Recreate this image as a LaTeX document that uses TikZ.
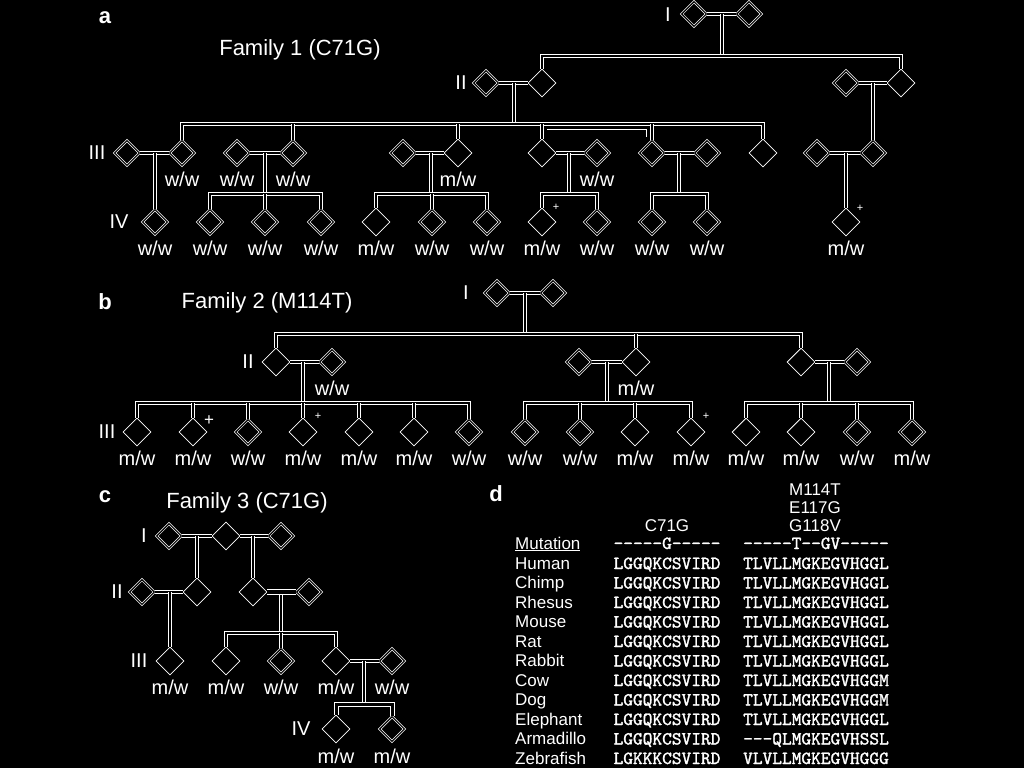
\documentclass[tikz,border=0pt]{standalone}
\usepackage{fontspec}
\setmainfont{Liberation Sans}
\newfontfamily\seqfont{lmmono10-regular.otf}[FakeBold=1.5]
\usetikzlibrary{shapes.geometric,calc}

\begin{document}
\begin{tikzpicture}[x=1pt,y=-1pt,
  opendia/.style={diamond,draw=white,line width=0.7pt,double=black,double distance=1.2pt,fill=black,minimum size=25pt,inner sep=0pt},
  filldia/.style={diamond,draw=white,line width=0.8pt,fill=black,minimum size=28pt,inner sep=0pt},
  conn/.style={draw=white,line width=1pt,double=black,double distance=2pt},
  gt/.style={text=white,font=\fontsize{20}{24}\selectfont,inner sep=0pt},
  genlabel/.style={text=white,font=\fontsize{20}{24}\selectfont,inner sep=0pt},
  famtitle/.style={text=white,font=\fontsize{22}{26}\selectfont,inner sep=0pt},
  panelletter/.style={text=white,font=\fontsize{22}{26}\selectfont\bfseries,inner sep=0pt},
  plusmark/.style={text=white,font=\fontsize{11}{12}\selectfont,inner sep=0pt},
  species/.style={text=white,font=\fontsize{17}{20}\selectfont,anchor=base west,inner sep=0pt},
  hdr/.style={text=white,font=\fontsize{17}{20}\selectfont,anchor=base,inner sep=0pt},
  seq/.style={text=white,font=\seqfont\fontsize{18.5}{20}\selectfont,anchor=base,inner sep=0pt}
]
\fill[black] (0,0) rectangle (1024,768);
\useasboundingbox (0,0) rectangle (1024,768);

% ---------------- a: Family 1
\node[panelletter] (aletter) at (105,18) {a};
\node[famtitle] (atitle) at (300,50) {Family 1 (C71G)};
\node[genlabel] (aIlab) at (668,15) {I};
\node[genlabel] (aIIlab) at (461,83) {II};
\node[genlabel] (aIIIlab) at (97,153) {III};
\node[genlabel] (aIVlab) at (119,222) {IV};

\node[opendia] (aI1) at (694,14) {};
\node[opendia] (aI2) at (749,14) {};

\node[opendia] (aII1) at (486,83) {};
\node[filldia] (aII2) at (542,83) {};
\node[opendia] (aII3) at (846,83) {};
\node[filldia] (aII4) at (901,83) {};

\node[opendia] (aIII1) at (127,153) {};
\node[opendia] (aIII2) at (182,153) {};
\node[opendia] (aIII3) at (237,153) {};
\node[opendia] (aIII4) at (293,153) {};
\node[opendia] (aIII5) at (403,153) {};
\node[filldia] (aIII6) at (458,153) {};
\node[filldia] (aIII7) at (542,153) {};
\node[opendia] (aIII8) at (597,153) {};
\node[opendia] (aIII9) at (652,153) {};
\node[opendia] (aIII10) at (707,153) {};
\node[filldia] (aIII11) at (763,153) {};
\node[opendia] (aIII12) at (817,153) {};
\node[opendia] (aIII13) at (873,153) {};

\node[opendia] (aIV1) at (155,222) {};
\node[opendia] (aIV2) at (210,222) {};
\node[opendia] (aIV3) at (265,222) {};
\node[opendia] (aIV4) at (321,222) {};
\node[filldia] (aIV5) at (376,222) {};
\node[opendia] (aIV6) at (432,222) {};
\node[opendia] (aIV7) at (487,222) {};
\node[filldia] (aIV8) at (542,222) {};
\node[opendia] (aIV9) at (597,222) {};
\node[opendia] (aIV10) at (652,222) {};
\node[opendia] (aIV11) at (707,222) {};
\node[filldia] (aIV12) at (846,222) {};

\node[gt] (aIII2g) at (182,179) {w/w};
\node[gt] (aIII3g) at (237,179) {w/w};
\node[gt] (aIII4g) at (293,179) {w/w};
\node[gt] (aIII6g) at (458,179) {m/w};
\node[gt] (aIII8g) at (597,179) {w/w};
\node[gt] (aIV1g) at (155,248) {w/w};
\node[gt] (aIV2g) at (210,248) {w/w};
\node[gt] (aIV3g) at (265,248) {w/w};
\node[gt] (aIV4g) at (321,248) {w/w};
\node[gt] (aIV5g) at (376,248) {m/w};
\node[gt] (aIV6g) at (432,248) {w/w};
\node[gt] (aIV7g) at (487,248) {w/w};
\node[gt] (aIV8g) at (542,248) {m/w};
\node[gt] (aIV9g) at (597,248) {w/w};
\node[gt] (aIV10g) at (652,248) {w/w};
\node[gt] (aIV11g) at (707,248) {w/w};
\node[gt] (aIV12g) at (846,248) {m/w};
\node[plusmark] (aIV8m) at (556,207) {+};
\node[plusmark] (aIV12m) at (860,208) {+};

\coordinate (aIm) at (722,14);
\coordinate (aIs) at (722,56);
\coordinate (aIIm) at (514,83);
\coordinate (aIIs) at (514,124);
\coordinate (aIIrm) at (873,83);
\coordinate (aIIIm1) at (155,153);
\coordinate (aIIIm2) at (265,153);
\coordinate (aIIIs2) at (265,194);
\coordinate (aIIIm3) at (431,153);
\coordinate (aIIIs3) at (431,194);
\coordinate (aIIIm4) at (569,153);
\coordinate (aIIIs4) at (569,194);
\coordinate (aIIIm5) at (679,153);
\coordinate (aIIIs5) at (679,194);
\coordinate (aIIIm6) at (846,153);
\coordinate (aX1) at (547,129);
\coordinate (aX2) at (646,137);

\draw[conn] (aI1.east) -- (aI2.west);
\draw[conn] (aIm) -- (aIs);
\draw[conn] (aII2.north) |- (aIs) -| (aII4.north);
\draw[conn] (aII1.east) -- (aII2.west);
\draw[conn] (aIIm) -- (aIIs);
\draw[conn] (aIII2.north) |- (aIIs) -| (aIII11.north);
\draw[conn] (aIII4.north) -- (aIII4.north |- aIIs);
\draw[conn] (aIII6.north) -- (aIII6.north |- aIIs);
\draw[conn] (aIII7.north) -- (aIII7.north |- aIIs);
\draw[conn] (aIII9.north) -- (aIII9.north |- aIIs);
\draw[white,line width=1pt] (aX1) -| (aX2);
\draw[conn] (aII3.east) -- (aII4.west);
\draw[conn] (aIIrm) -- (aIII13.north);
\draw[conn] (aIII1.east) -- (aIII2.west);
\draw[conn] (aIIIm1) -- (aIV1.north);
\draw[conn] (aIII3.east) -- (aIII4.west);
\draw[conn] (aIIIm2) -- (aIIIs2);
\draw[conn] (aIV2.north) |- (aIIIs2) -| (aIV4.north);
\draw[conn] (aIV3.north) -- (aIV3.north |- aIIIs2);
\draw[conn] (aIII5.east) -- (aIII6.west);
\draw[conn] (aIIIm3) -- (aIIIs3);
\draw[conn] (aIV5.north) |- (aIIIs3) -| (aIV7.north);
\draw[conn] (aIV6.north) -- (aIV6.north |- aIIIs3);
\draw[conn] (aIII7.east) -- (aIII8.west);
\draw[conn] (aIIIm4) -- (aIIIs4);
\draw[conn] (aIV8.north) |- (aIIIs4) -| (aIV9.north);
\draw[conn] (aIII9.east) -- (aIII10.west);
\draw[conn] (aIIIm5) -- (aIIIs5);
\draw[conn] (aIV10.north) |- (aIIIs5) -| (aIV11.north);
\draw[conn] (aIII12.east) -- (aIII13.west);
\draw[conn] (aIIIm6) -- (aIV12.north);

% ---------------- b: Family 2
\node[panelletter] (bletter) at (105,302) {b};
\node[famtitle] (btitle) at (267,303) {Family 2 (M114T)};
\node[genlabel] (bIlab) at (466,293) {I};
\node[genlabel] (bIIlab) at (248,362) {II};
\node[genlabel] (bIIIlab) at (107,432) {III};

\node[opendia] (bI1) at (497,293) {};
\node[opendia] (bI2) at (553,293) {};

\node[filldia] (bII1) at (276,362) {};
\node[opendia] (bII2) at (332,362) {};
\node[opendia] (bII3) at (579,362) {};
\node[filldia] (bII4) at (636,362) {};
\node[filldia] (bII5) at (801,362) {};
\node[opendia] (bII6) at (857,362) {};

\node[filldia] (bIII1) at (137,432) {};
\node[filldia] (bIII2) at (193,432) {};
\node[opendia] (bIII3) at (248,432) {};
\node[filldia] (bIII4) at (303,432) {};
\node[filldia] (bIII5) at (359,432) {};
\node[filldia] (bIII6) at (414,432) {};
\node[opendia] (bIII7) at (469,432) {};
\node[opendia] (bIII8) at (525,432) {};
\node[opendia] (bIII9) at (580,432) {};
\node[filldia] (bIII10) at (635,432) {};
\node[filldia] (bIII11) at (691,432) {};
\node[filldia] (bIII12) at (746,432) {};
\node[filldia] (bIII13) at (801,432) {};
\node[opendia] (bIII14) at (857,432) {};
\node[opendia] (bIII15) at (912,432) {};

\node[gt] (bII2g) at (332,388) {w/w};
\node[gt] (bII4g) at (636,388) {m/w};
\node[gt] (bIII1g) at (137,458) {m/w};
\node[gt] (bIII2g) at (193,458) {m/w};
\node[gt] (bIII3g) at (248,458) {w/w};
\node[gt] (bIII4g) at (303,458) {m/w};
\node[gt] (bIII5g) at (359,458) {m/w};
\node[gt] (bIII6g) at (414,458) {m/w};
\node[gt] (bIII7g) at (469,458) {w/w};
\node[gt] (bIII8g) at (525,458) {w/w};
\node[gt] (bIII9g) at (580,458) {w/w};
\node[gt] (bIII10g) at (635,458) {m/w};
\node[gt] (bIII11g) at (691,458) {m/w};
\node[gt] (bIII12g) at (746,458) {m/w};
\node[gt] (bIII13g) at (801,458) {m/w};
\node[gt] (bIII14g) at (857,458) {w/w};
\node[gt] (bIII15g) at (912,458) {m/w};
\node[plusmark,font=\fontsize{17}{18}\selectfont] (bIII2m) at (209,421) {+};
\node[plusmark] (bIII4m) at (318,416) {+};
\node[plusmark] (bIII11m) at (706,416) {+};

\coordinate (bIm) at (525,293);
\coordinate (bIs) at (525,334);
\coordinate (bIIm1) at (303,362);
\coordinate (bIIs1) at (303,403);
\coordinate (bIIm2) at (607,362);
\coordinate (bIIs2) at (607,403);
\coordinate (bIIm3) at (829,362);
\coordinate (bIIs3) at (829,403);

\draw[conn] (bI1.east) -- (bI2.west);
\draw[conn] (bIm) -- (bIs);
\draw[conn] (bII1.north) |- (bIs) -| (bII5.north);
\draw[conn] (bII4.north) -- (bII4.north |- bIs);
\draw[conn] (bII1.east) -- (bII2.west);
\draw[conn] (bIIm1) -- (bIIs1);
\draw[conn] (bIII1.north) |- (bIIs1) -| (bIII7.north);
\draw[conn] (bIII2.north) -- (bIII2.north |- bIIs1);
\draw[conn] (bIII3.north) -- (bIII3.north |- bIIs1);
\draw[conn] (bIII4.north) -- (bIII4.north |- bIIs1);
\draw[conn] (bIII5.north) -- (bIII5.north |- bIIs1);
\draw[conn] (bIII6.north) -- (bIII6.north |- bIIs1);
\draw[conn] (bII3.east) -- (bII4.west);
\draw[conn] (bIIm2) -- (bIIs2);
\draw[conn] (bIII8.north) |- (bIIs2) -| (bIII11.north);
\draw[conn] (bIII9.north) -- (bIII9.north |- bIIs2);
\draw[conn] (bIII10.north) -- (bIII10.north |- bIIs2);
\draw[conn] (bII5.east) -- (bII6.west);
\draw[conn] (bIIm3) -- (bIIs3);
\draw[conn] (bIII12.north) |- (bIIs3) -| (bIII15.north);
\draw[conn] (bIII13.north) -- (bIII13.north |- bIIs3);
\draw[conn] (bIII14.north) -- (bIII14.north |- bIIs3);

% ---------------- c: Family 3
\node[panelletter] (cletter) at (105,497) {c};
\node[famtitle] (ctitle) at (247,503) {Family 3 (C71G)};
\node[genlabel] (cIlab) at (144,536) {I};
\node[genlabel] (cIIlab) at (117,592) {II};
\node[genlabel] (cIIIlab) at (139,661) {III};
\node[genlabel] (cIVlab) at (301,729) {IV};

\node[opendia] (cI1) at (169,536) {};
\node[filldia] (cI2) at (226,536) {};
\node[opendia] (cI3) at (281,536) {};

\node[opendia] (cII1) at (142,592) {};
\node[filldia] (cII2) at (197,592) {};
\node[filldia] (cII3) at (253,592) {};
\node[opendia] (cII4) at (309,592) {};

\node[filldia] (cIII1) at (170,661) {};
\node[filldia] (cIII2) at (226,661) {};
\node[opendia] (cIII3) at (281,661) {};
\node[filldia] (cIII4) at (336,661) {};
\node[opendia] (cIII5) at (392,661) {};

\node[filldia] (cIV1) at (336,729) {};
\node[opendia] (cIV2) at (392,729) {};

\node[gt] (cIII1g) at (170,687) {m/w};
\node[gt] (cIII2g) at (226,687) {m/w};
\node[gt] (cIII3g) at (281,687) {w/w};
\node[gt] (cIII4g) at (336,687) {m/w};
\node[gt] (cIII5g) at (392,687) {w/w};
\node[gt] (cIV1g) at (336,756) {m/w};
\node[gt] (cIV2g) at (392,756) {m/w};

\coordinate (cIm1) at (197,536);
\coordinate (cIm2) at (253,536);
\coordinate (cIIm1) at (170,592);
\coordinate (cIIm2) at (281,595);
\coordinate (cIIs2) at (281,633);
\coordinate (cIIIm) at (364,661);
\coordinate (cIIIs) at (364,704);

\draw[conn] (cI1.east) -- (cI2.west);
\draw[conn] (cI2.east) -- (cI3.west);
\draw[conn] (cIm1) -- (cII2.north);
\draw[conn] (cIm2) -- (cII3.north);
\draw[conn] (cII1.east) -- (cII2.west);
\draw[conn] (cIIm1) -- (cIII1.north);
\draw[conn,double distance=4pt] (cII3.east) -- (cII4.west);
\draw[conn] (cIIm2) -- (cIIs2);
\draw[conn] (cIII2.north) |- (cIIs2) -| (cIII4.north);
\draw[conn] (cIII3.north) -- (cIII3.north |- cIIs2);
\draw[conn] (cIII4.east) -- (cIII5.west);
\draw[conn] (cIIIm) -- (cIIIs);
\draw[conn,double distance=3pt] (cIV1.north) |- (cIIIs) -| (cIV2.north);

% ---------------- d: alignment
\node[panelletter] (dletter) at (496,494) {d};
\node[hdr] (dhc) at (667,531) {C71G};
\node[hdr] (dhm1) at (815,495) {M114T};
\node[hdr] (dhm2) at (815,513) {E117G};
\node[hdr] (dhm3) at (815,531) {G118V};
\node[species] (dmut) at (515,549) {\underline{Mutation}};
\node[seq] (dmut1) at (667,549) {-----G-----};
\node[seq] (dmut2) at (816,549) {-----T--GV-----};

\node[species] (dsp1) at (515,569) {Human};
\node[species] (dsp2) at (515,588.5) {Chimp};
\node[species] (dsp3) at (515,608) {Rhesus};
\node[species] (dsp4) at (515,627.5) {Mouse};
\node[species] (dsp5) at (515,647) {Rat};
\node[species] (dsp6) at (515,666.5) {Rabbit};
\node[species] (dsp7) at (515,686) {Cow};
\node[species] (dsp8) at (515,705.5) {Dog};
\node[species] (dsp9) at (515,725) {Elephant};
\node[species] (dsp10) at (515,744.5) {Armadillo};
\node[species] (dsp11) at (515,764) {Zebrafish};

\node[seq] (dl1) at (667,569) {LGGQKCSVIRD};
\node[seq] (dl2) at (667,588.5) {LGGQKCSVIRD};
\node[seq] (dl3) at (667,608) {LGGQKCSVIRD};
\node[seq] (dl4) at (667,627.5) {LGGQKCSVIRD};
\node[seq] (dl5) at (667,647) {LGGQKCSVIRD};
\node[seq] (dl6) at (667,666.5) {LGGQKCSVIRD};
\node[seq] (dl7) at (667,686) {LGGQKCSVIRD};
\node[seq] (dl8) at (667,705.5) {LGGQKCSVIRD};
\node[seq] (dl9) at (667,725) {LGGQKCSVIRD};
\node[seq] (dl10) at (667,744.5) {LGGQKCSVIRD};
\node[seq] (dl11) at (667,764) {LGKKKCSVIRD};

\node[seq] (dr1) at (816,569) {TLVLLMGKEGVHGGL};
\node[seq] (dr2) at (816,588.5) {TLVLLMGKEGVHGGL};
\node[seq] (dr3) at (816,608) {TLVLLMGKEGVHGGL};
\node[seq] (dr4) at (816,627.5) {TLVLLMGKEGVHGGL};
\node[seq] (dr5) at (816,647) {TLVLLMGKEGVHGGL};
\node[seq] (dr6) at (816,666.5) {TLVLLMGKEGVHGGL};
\node[seq] (dr7) at (816,686) {TLVLLMGKEGVHGGM};
\node[seq] (dr8) at (816,705.5) {TLVLLMGKEGVHGGM};
\node[seq] (dr9) at (816,725) {TLVLLMGKEGVHGGL};
\node[seq] (dr10) at (816,744.5) {---QLMGKEGVHSSL};
\node[seq] (dr11) at (816,764) {VLVLLMGKEGVHGGG};
\end{tikzpicture}
\end{document}
